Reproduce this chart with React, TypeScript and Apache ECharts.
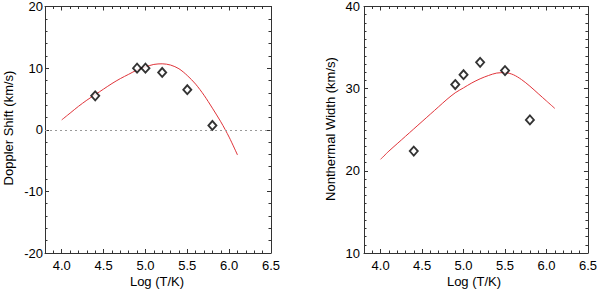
import React, { useEffect, useRef } from "react";
import * as echarts from "echarts";

// ---- data ----
const xMajorTicks = [4.0, 4.5, 5.0, 5.5, 6.0, 6.5];
const logTemps = [4.4, 4.9, 5.0, 5.2, 5.5, 5.8];
const dopplerShift = [5.5, 10.0, 10.0, 9.3, 6.5, 0.7];
const nonthermalWidth = [22.4, 30.5, 31.7, 33.2, 32.2, 26.2];
const fitLogT = [4.0, 4.1, 4.2, 4.3, 4.4, 4.5, 4.6, 4.7, 4.8, 4.9, 5.0, 5.1, 5.2, 5.3, 5.4, 5.5, 5.6, 5.7, 5.8, 5.9, 6.0, 6.1];
const dopplerFit = [1.6, 2.7, 3.8, 4.8, 5.7, 6.6, 7.5, 8.3, 9.0, 9.7, 10.2, 10.6, 10.7, 10.5, 9.9, 8.8, 7.4, 5.6, 3.5, 1.3, -1.2, -4.1];
const widthFit = [21.4, 22.4, 23.3, 24.2, 25.1, 26.0, 26.9, 27.8, 28.7, 29.5, 30.1, 30.7, 31.2, 31.6, 31.9, 31.95, 31.7, 31.1, 30.3, 29.4, 28.5, 27.6];
const dopplerRange = [-20, 20];
const widthRange = [10, 40];
const xRange = [3.8, 6.5];

const FONT = "'Liberation Sans', Arial, Helvetica, sans-serif";
const FRAME = "#333";

function pairs(xs: number[], ys: number[]) {
  return xs.map((x, i) => [x, ys[i]]);
}

function xAxes(gridIndex: number) {
  const base = {
    type: "value",
    gridIndex,
    min: xRange[0],
    max: xRange[1],
    splitLine: { show: false },
  };
  const out: any[] = [];
  (["bottom", "top"] as const).forEach((pos) => {
    out.push({
      ...base,
      position: pos,
      axisLine: { show: true, onZero: false, lineStyle: { color: FRAME, width: 1 } },
      axisTick: { show: true, inside: true, length: 4, customValues: xMajorTicks, lineStyle: { color: FRAME } },
      axisLabel: {
        show: pos === "bottom",
        customValues: xMajorTicks,
        formatter: (v: number) => v.toFixed(1),
        color: "#000",
        fontSize: 13,
        fontFamily: FONT,
        margin: 6,
      },
    });
    out.push({
      ...base,
      position: pos,
      interval: 0.1,
      axisLine: { show: false, onZero: false },
      axisTick: { show: true, inside: true, length: 2.5, lineStyle: { color: FRAME } },
      axisLabel: { show: false },
    });
  });
  return out;
}

function yAxes(gridIndex: number, range: number[], minorSplit: number, labelMargin: number) {
  return (["left", "right"] as const).map((pos) => ({
    type: "value",
    gridIndex,
    position: pos,
    min: range[0],
    max: range[1],
    interval: 10,
    splitLine: { show: false },
    axisLine: { show: true, onZero: false, lineStyle: { color: FRAME, width: 1 } },
    axisTick: { show: true, inside: true, length: 4, lineStyle: { color: FRAME } },
    minorTick: { show: true, splitNumber: minorSplit, length: 2.5, lineStyle: { color: FRAME } },
    axisLabel: {
      show: pos === "left",
      color: "#000",
      fontSize: 13,
      fontFamily: FONT,
      margin: labelMargin,
    },
  }));
}

const scatterStyle = {
  type: "scatter",
  symbol: "diamond",
  symbolSize: [8, 9],
  itemStyle: { color: "#fff", borderColor: "#000", borderWidth: 1.9 },
  z: 5,
};

const lineStyle = {
  type: "line",
  smooth: 0.3,
  showSymbol: false,
  symbol: "none",
  lineStyle: { color: "#e0343a", width: 1 },
  z: 3,
};

export default function App() {
  const ref = useRef<HTMLDivElement>(null);
  useEffect(() => {
    if (!ref.current) return;
    const chart = echarts.init(ref.current, undefined, { renderer: "svg" });
    chart.setOption({
      animation: false,
      backgroundColor: "#fff",
      textStyle: { fontFamily: FONT },
      grid: [
        { left: 45, top: 5, width: 226, height: 248 },
        { left: 364, top: 5, width: 225, height: 248 },
      ],
      xAxis: [...xAxes(0), ...xAxes(1)],
      yAxis: [...yAxes(0, dopplerRange, 5, 2), ...yAxes(1, widthRange, 10, 4)],
      series: [
        {
          ...lineStyle,
          xAxisIndex: 0,
          yAxisIndex: 0,
          data: pairs(fitLogT, dopplerFit),
          markLine: {
            silent: true,
            symbol: "none",
            label: { show: false },
            lineStyle: { type: [2, 3], color: "#999", width: 1 },
            data: [{ yAxis: 0 }],
          },
        },
        { ...scatterStyle, xAxisIndex: 0, yAxisIndex: 0, data: pairs(logTemps, dopplerShift) },
        { ...lineStyle, xAxisIndex: 4, yAxisIndex: 2, data: pairs(fitLogT, widthFit) },
        { ...scatterStyle, xAxisIndex: 4, yAxisIndex: 2, data: pairs(logTemps, nonthermalWidth) },
      ],
      graphic: [
        {
          type: "text",
          x: 8,
          y: 128,
          rotation: Math.PI / 2,
          style: { text: "Doppler Shift (km/s)", fill: "#000", font: `13px ${FONT}`, align: "center", verticalAlign: "middle" },
        },
        {
          type: "text",
          x: 330,
          y: 129,
          rotation: Math.PI / 2,
          style: { text: "Nonthermal Width (km/s)", fill: "#000", font: `13px ${FONT}`, align: "center", verticalAlign: "middle" },
        },
        {
          type: "text",
          x: 157,
          y: 281,
          style: { text: "Log (T/K)", fill: "#000", font: `13px ${FONT}`, align: "center", verticalAlign: "middle" },
        },
        {
          type: "text",
          x: 474,
          y: 281,
          style: { text: "Log (T/K)", fill: "#000", font: `13px ${FONT}`, align: "center", verticalAlign: "middle" },
        },
      ],
    });
    return () => chart.dispose();
  }, []);
  return (
    <div
      ref={ref}
      style={{ position: "absolute", left: 0, top: 0, width: 600, height: 290, background: "#fff" }}
    />
  );
}
